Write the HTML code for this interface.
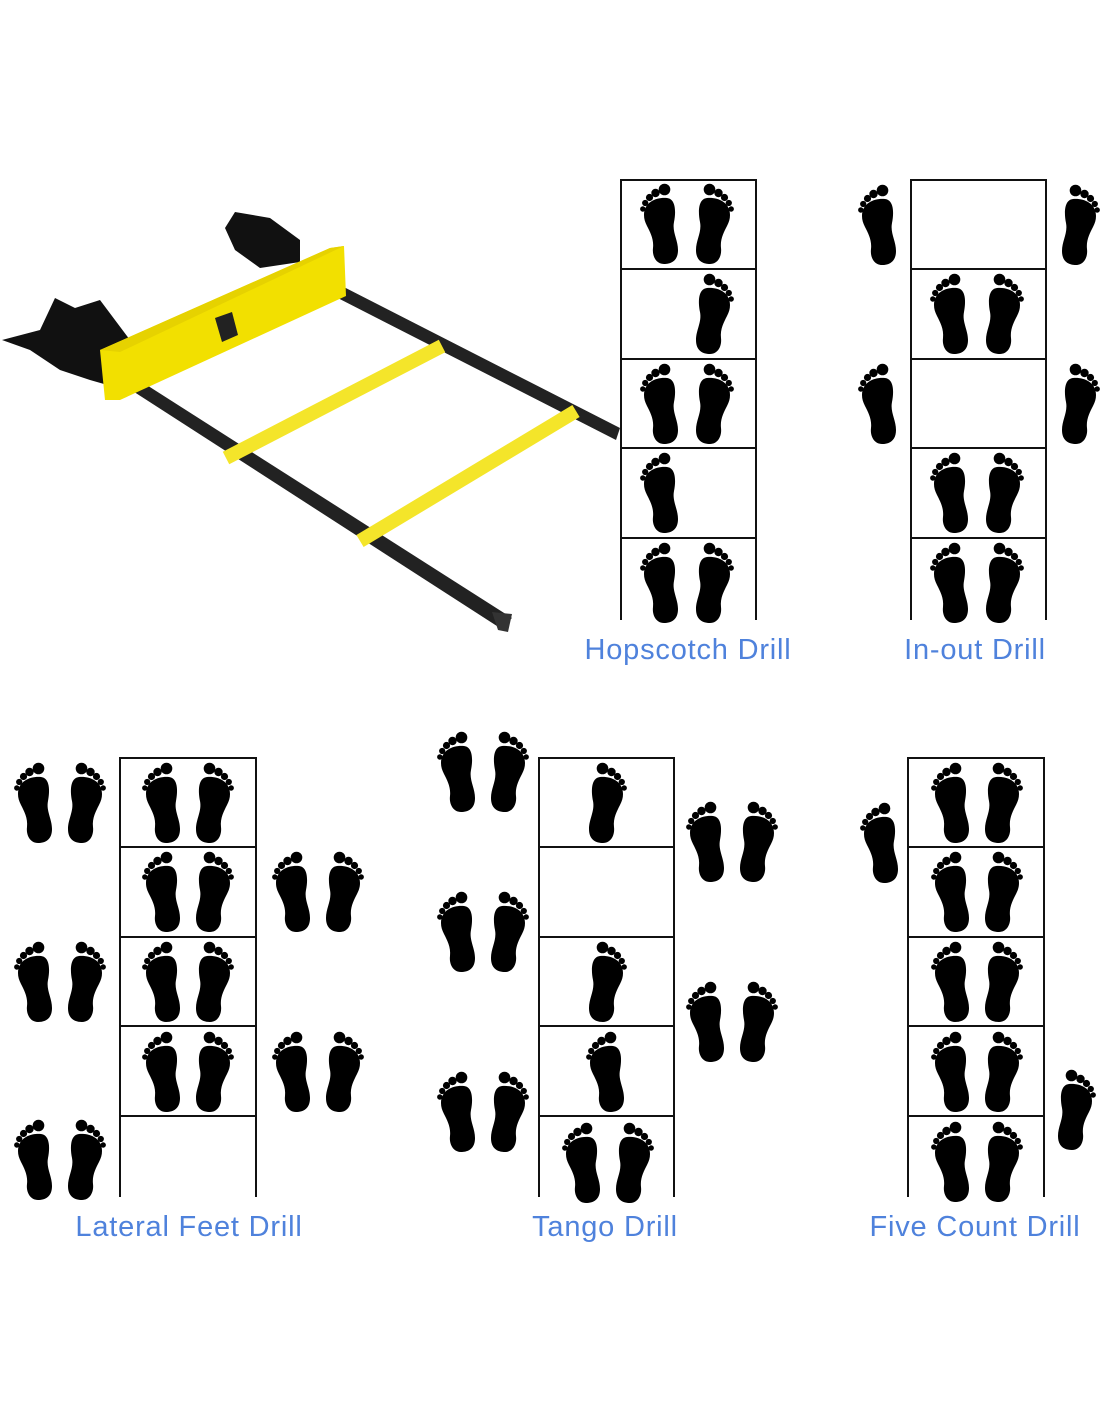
<!DOCTYPE html>
<html><head><meta charset="utf-8"><style>
html,body{margin:0;padding:0;background:#fff}
body{width:1100px;height:1422px;position:relative;overflow:hidden;font-family:"Liberation Sans",sans-serif}
.lbl{position:absolute;color:#4f82dc;font-size:29px;letter-spacing:0.8px;white-space:nowrap;transform:translateX(-50%)}
</style></head><body>
<svg width="1100" height="1422" style="position:absolute;left:0;top:0">
<defs>
<g id="L">
<circle cx="24.5" cy="5.5" r="5.8"/><circle cx="15.5" cy="9" r="4.2"/><circle cx="9.5" cy="13.5" r="3.6"/><circle cx="5.2" cy="19" r="3.1"/><circle cx="2.8" cy="25" r="2.7"/>
<path d="M4,31 C4,17 18,13 27,14 C36,15 36,28 34,38 C32,48 38,56 38,66 C38,77 31,80 24,80 C16,80 12,72 13,64 C14,55 10,48 7,42 C5,38 4,35 4,31Z"/>
</g>
<g id="R"><use href="#L" transform="translate(40,0) scale(-1,1)"/></g>
</defs>
<g>
<polygon points="128,388 142,382 512,618 500,628" fill="#222"/>
<polygon points="326,292 334,282 620,428 616,440" fill="#222"/>
<polygon points="492,612 512,614 508,632 498,630" fill="#333"/>
<path d="M2,340 L40,330 L55,298 L75,308 L100,300 L130,340 L125,390 L90,380 L60,370 L30,350Z" fill="#111"/>
<path d="M225,228 L235,212 L270,218 L300,240 L300,262 L260,268 L235,250Z" fill="#111"/>
<polygon points="100,350 330,248 344,246 346,296 120,400 105,400" fill="#f2e000"/>
<polygon points="100,350 330,248 344,246 120,352" fill="#e6d200"/>
<polygon points="215,318 232,312 238,335 222,342" fill="#222"/>
<line x1="226" y1="458" x2="442" y2="346" stroke="#f4e52a" stroke-width="14"/>
<line x1="360" y1="541" x2="576" y2="411" stroke="#f4e52a" stroke-width="14"/>
</g>
<g fill="none" stroke="#111" stroke-width="2">
<path d="M621,620 V180 H756 V620 M621,269 H756 M621,359 H756 M621,448 H756 M621,538 H756"/>
<path d="M911,620 V180 H1046 V620 M911,269 H1046 M911,359 H1046 M911,448 H1046 M911,538 H1046"/>
<path d="M120,1197 V758 H256 V1197 M120,847 H256 M120,937 H256 M120,1026 H256 M120,1116 H256"/>
<path d="M539,1197 V758 H674 V1197 M539,847 H674 M539,937 H674 M539,1026 H674 M539,1116 H674"/>
<path d="M908,1197 V758 H1044 V1197 M908,847 H1044 M908,937 H1044 M908,1026 H1044 M908,1116 H1044"/>
</g>
<g fill="#000">
<use href="#L" x="640" y="184"/><use href="#R" x="694" y="184"/>
<use href="#R" x="694" y="274"/>
<use href="#L" x="640" y="364"/><use href="#R" x="694" y="364"/>
<use href="#L" x="640" y="453"/>
<use href="#L" x="640" y="543"/><use href="#R" x="694" y="543"/>
<use href="#L" x="858" y="185"/><use href="#R" x="1060" y="185"/>
<use href="#L" x="930" y="274"/><use href="#R" x="984" y="274"/>
<use href="#L" x="858" y="364"/><use href="#R" x="1060" y="364"/>
<use href="#L" x="930" y="453"/><use href="#R" x="984" y="453"/>
<use href="#L" x="930" y="543"/><use href="#R" x="984" y="543"/>
<use href="#L" x="14" y="763"/><use href="#R" x="66" y="763"/>
<use href="#L" x="14" y="942"/><use href="#R" x="66" y="942"/>
<use href="#L" x="14" y="1120"/><use href="#R" x="66" y="1120"/>
<use href="#L" x="142" y="763"/><use href="#R" x="194" y="763"/>
<use href="#L" x="142" y="852"/><use href="#R" x="194" y="852"/>
<use href="#L" x="142" y="942"/><use href="#R" x="194" y="942"/>
<use href="#L" x="142" y="1032"/><use href="#R" x="194" y="1032"/>
<use href="#L" x="272" y="852"/><use href="#R" x="324" y="852"/>
<use href="#L" x="272" y="1032"/><use href="#R" x="324" y="1032"/>
<use href="#L" x="437" y="732"/><use href="#R" x="489" y="732"/>
<use href="#L" x="437" y="892"/><use href="#R" x="489" y="892"/>
<use href="#L" x="437" y="1072"/><use href="#R" x="489" y="1072"/>
<use href="#R" x="587" y="763"/>
<use href="#R" x="587" y="942"/>
<use href="#L" x="586" y="1032"/>
<use href="#L" x="562" y="1123"/><use href="#R" x="614" y="1123"/>
<use href="#L" x="686" y="802"/><use href="#R" x="738" y="802"/>
<use href="#L" x="686" y="982"/><use href="#R" x="738" y="982"/>
<use href="#L" x="860" y="803"/>
<use href="#L" x="931" y="763"/><use href="#R" x="983" y="763"/>
<use href="#L" x="931" y="852"/><use href="#R" x="983" y="852"/>
<use href="#L" x="931" y="942"/><use href="#R" x="983" y="942"/>
<use href="#L" x="931" y="1032"/><use href="#R" x="983" y="1032"/>
<use href="#L" x="931" y="1122"/><use href="#R" x="983" y="1122"/>
<use href="#R" x="1056" y="1070"/>
</g>
</svg>
<div class="lbl" style="left:688px;top:634px">Hopscotch Drill</div>
<div class="lbl" style="left:975px;top:634px">In-out Drill</div>
<div class="lbl" style="left:189px;top:1211px">Lateral Feet Drill</div>
<div class="lbl" style="left:605px;top:1211px">Tango Drill</div>
<div class="lbl" style="left:975px;top:1211px">Five Count Drill</div>
</body></html>
